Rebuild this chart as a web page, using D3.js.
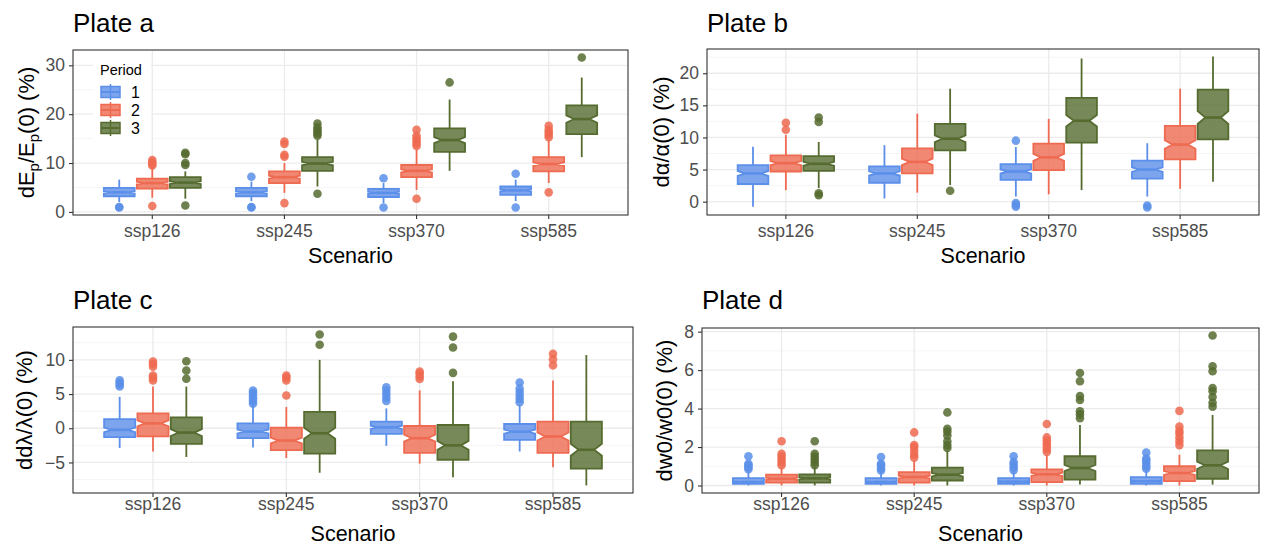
<!DOCTYPE html>
<html><head><meta charset="utf-8">
<script src="https://cdn.jsdelivr.net/npm/d3@7"></script>
<style>body{margin:0;background:#fff} text{font-family:"Liberation Sans",Arial,sans-serif}</style>
</head><body><svg id="chart" width="1261" height="546"></svg>
<script>
// ---------- data ----------
const scenarios = ["ssp126", "ssp245", "ssp370", "ssp585"];
const periods = ["1", "2", "3"];
const sampleSize = 150; // members per box, used for the notch (ggplot: median ± 1.58 IQR / sqrt(n))

// Plate a : dEp/Ep(0) (%)   [scenario][period]
const aLow = [[2.0, 2.9, 2.7], [2.2, 3.9, 5.2], [1.8, 4.5, 8.4], [2.2, 5.9, 11.2]];
const aQ1  = [[3.2, 4.75, 4.9], [3.2, 5.9, 8.4], [3.05, 7.1, 12.3], [3.5, 8.3, 15.9]];
const aMed = [[4.0, 5.9, 6.0], [4.0, 7.1, 9.9], [3.9, 8.4, 14.7], [4.4, 9.8, 19.0]];
const aQ3  = [[4.9, 6.8, 7.1], [4.9, 8.3, 11.2], [4.7, 9.6, 17.1], [5.2, 11.2, 21.8]];
const aHigh = [[6.6, 9.0, 8.3], [6.2, 10.0, 14.8], [5.9, 12.8, 23.0], [6.6, 14.7, 27.5]];
const aOut = [
  [[1.0, 0.9], [1.2, 9.5, 9.8, 10.2, 10.6], [1.3, 9.6, 10.0, 11.8, 12.1]],
  [[1.0, 0.9, 7.2], [1.8, 11.3, 11.7, 13.9, 14.4], [3.7, 15.6, 16.0, 16.4, 16.8, 17.3, 18.1]],
  [[0.9, 6.9], [2.7, 13.5, 14.0, 14.5, 15.0, 15.6, 16.8], [26.5]],
  [[0.9, 7.8], [4.0, 15.3, 15.8, 16.3, 16.8, 17.6], [31.6]]
];
const aTicks = [0, 10, 20, 30];

// Plate b : dα/α(0) (%)
const bLow = [[-0.8, 1.8, 2.1], [0.5, 1.4, 2.6], [0.8, 1.15, 1.8], [0.8, 2.0, 3.1]];
const bQ1  = [[2.75, 4.7, 4.8], [2.95, 4.4, 8.0], [3.4, 4.9, 9.2], [3.6, 6.6, 9.7]];
const bMed = [[4.4, 6.0, 5.9], [4.4, 6.2, 9.8], [4.7, 6.9, 12.6], [5.0, 8.9, 13.1]];
const bQ3  = [[5.7, 7.2, 7.1], [5.5, 8.3, 12.1], [5.85, 9.05, 16.15], [6.4, 11.8, 17.45]];
const bHigh = [[8.55, 10.4, 9.3], [8.8, 13.7, 17.6], [8.5, 12.9, 22.3], [9.1, 17.6, 22.6]];
const bOut = [
  [[], [11.2, 12.3], [1.0, 1.3, 12.4, 13.1]],
  [[], [], [1.7]],
  [[9.5, -0.2, -0.5, -0.8], [], []],
  [[-0.6, -0.9], [], []]
];
const bTicks = [0, 5, 10, 15, 20];

// Plate c : ddλ/λ(0) (%)
const cLow = [[-2.9, -3.4, -4.2], [-2.8, -4.35, -6.5], [-2.57, -5.17, -7.15], [-3.4, -5.7, -8.36]];
const cQ1  = [[-1.3, -1.2, -2.27], [-1.45, -3.2, -3.72], [-0.83, -3.6, -4.6], [-1.7, -3.6, -5.9]];
const cMed = [[-0.24, 0.72, -0.63], [-0.48, -1.8, -0.73], [0.14, -1.45, -2.5], [-0.49, -1.2, -3.14]];
const cQ3  = [[1.35, 2.17, 1.6], [0.72, 0.1, 2.4], [0.96, 0.33, 0.48], [0.62, 0.96, 0.96]];
const cHigh = [[4.6, 6.1, 6.1], [3.4, 3.1, 10.0], [2.9, 5.55, 6.86], [3.38, 7.0, 10.7]];
const cOut = [
  [[6.1, 6.4, 6.7, 7.0], [7.0, 7.4, 7.7, 9.0, 9.4, 9.75], [7.25, 8.45, 9.8]],
  [[3.6, 4.0, 4.4, 4.8, 5.2, 5.5], [4.8, 7.0, 7.4, 7.7], [12.2, 13.7]],
  [[4.0, 4.5, 5.0, 5.5, 6.0], [7.2, 7.6, 8.0, 8.3], [8.1, 11.8, 13.4]],
  [[3.8, 4.3, 4.8, 5.3, 5.8, 6.7], [9.2, 10.1, 10.9], []]
];
const cTicks = [-5, 0, 5, 10];

// Plate d : dw0/w0(0) (%)
const dLow = [[0.0, 0.0, 0.0], [0.0, 0.0, 0.0], [0.0, 0.0, 0.05], [0.0, 0.0, 0.05]];
const dQ1  = [[0.08, 0.15, 0.15], [0.08, 0.15, 0.26], [0.08, 0.18, 0.31], [0.08, 0.23, 0.35]];
const dMed = [[0.18, 0.35, 0.37], [0.18, 0.44, 0.56], [0.2, 0.58, 0.91], [0.22, 0.65, 1.05]];
const dQ3  = [[0.38, 0.57, 0.58], [0.38, 0.7, 0.93], [0.38, 0.84, 1.52], [0.44, 1.0, 1.83]];
const dHigh = [[0.78, 0.95, 0.95], [0.7, 1.3, 1.8], [0.75, 1.6, 3.14], [0.8, 1.6, 3.67]];
const dOut = [
  [[0.85, 0.95, 1.05, 1.13, 1.52], [1.05, 1.2, 1.35, 1.5, 1.65, 2.3], [1.05, 1.2, 1.35, 1.5, 1.65, 2.3]],
  [[0.78, 0.9, 1.05, 1.13, 1.48], [1.45, 1.6, 1.8, 2.0, 2.1, 2.76], [1.95, 2.1, 2.3, 2.6, 2.8, 2.95, 3.8]],
  [[0.8, 0.95, 1.1, 1.22, 1.52], [1.75, 1.9, 2.05, 2.2, 2.35, 2.5, 3.2], [3.5, 3.7, 3.86, 4.45, 4.65, 5.42, 5.85]],
  [[0.87, 1.0, 1.15, 1.3, 1.4, 1.71], [2.1, 2.3, 2.5, 2.7, 2.85, 3.06, 3.88], [4.1, 4.3, 4.6, 4.9, 5.07, 5.94, 6.2, 7.8]]
];
const dTicks = [0, 2, 4, 6, 8];

// ---------- styling / layout ----------
const lineColors = ["#5B8FE9", "#EE6A50", "#556B2F"];
const fillOpacity = 0.8;

const svg = d3.select("#chart");

const plates = [
  { title: "Plate a", lo: aLow, q1: aQ1, med: aMed, q3: aQ3, hi: aHigh, out: aOut, ticks: aTicks,
    x0: 73, x1: 628, y0: 50, y1: 215, titleY: 32, tickPad: 6, xTitleY: 263, yTitleX: 34, ytitle: "a" },
  { title: "Plate b", lo: bLow, q1: bQ1, med: bMed, q3: bQ3, hi: bHigh, out: bOut, ticks: bTicks,
    x0: 707, x1: 1259, y0: 49, y1: 215, titleY: 32, tickPad: 6, xTitleY: 263, yTitleX: 669, ytitle: "dα/α(0) (%)" },
  { title: "Plate c", lo: cLow, q1: cQ1, med: cMed, q3: cQ3, hi: cHigh, out: cOut, ticks: cTicks,
    x0: 73, x1: 633, y0: 327, y1: 493, titleY: 309, tickPad: 1, xTitleY: 541, yTitleX: 32, ytitle: "ddλ/λ(0) (%)" },
  { title: "Plate d", lo: dLow, q1: dQ1, med: dMed, q3: dQ3, hi: dHigh, out: dOut, ticks: dTicks,
    x0: 702, x1: 1259, y0: 328, y1: 493, titleY: 309, tickPad: 1, xTitleY: 541, yTitleX: 672, ytitle: "dw0/w0(0) (%)" }
];

plates.forEach(drawPlate);

function drawPlate(p, pi) {
  const g = svg.append("g");
  const x = d3.scaleBand().domain(scenarios).range([p.x0, p.x1]).paddingInner(0).paddingOuter(0.1);
  const xp = d3.scaleBand().domain(periods).range([-0.375 * x.step(), 0.375 * x.step()]);
  const boxW = xp.bandwidth() * (0.7 / 0.75);

  // y domain from data (with 5% expansion, like ggplot)
  let all = [];
  scenarios.forEach((s, i) => periods.forEach((k, j) => {
    all.push(p.lo[i][j], p.hi[i][j], ...p.out[i][j]);
  }));
  const mn = d3.min(all), mx = d3.max(all), pad = (mx - mn) * 0.05;
  const y = d3.scaleLinear().domain([mn - pad, mx + pad]).range([p.y1, p.y0]);

  // grid
  const step = p.ticks[1] - p.ticks[0];
  const minor = [];
  for (let v = p.ticks[0] - step / 2; v <= y.domain()[1]; v += step) {
    if (v >= y.domain()[0]) minor.push(v);
  }
  g.selectAll(".minor").data(minor).join("line")
    .attr("x1", p.x0).attr("x2", p.x1).attr("y1", d => y(d)).attr("y2", d => y(d))
    .attr("stroke", "#F2F2F2").attr("stroke-width", 0.8);
  g.selectAll(".majorY").data(p.ticks).join("line")
    .attr("x1", p.x0).attr("x2", p.x1).attr("y1", d => y(d)).attr("y2", d => y(d))
    .attr("stroke", "#EBEBEB").attr("stroke-width", 1.3);
  g.selectAll(".majorX").data(scenarios).join("line")
    .attr("x1", d => x(d) + x.bandwidth() / 2).attr("x2", d => x(d) + x.bandwidth() / 2)
    .attr("y1", p.y0).attr("y2", p.y1)
    .attr("stroke", "#EBEBEB").attr("stroke-width", 1.3);

  // legend background (plate a only) – drawn later over grid
  // boxes
  scenarios.forEach((s, i) => periods.forEach((k, j) => {
    const cx = x(s) + x.bandwidth() / 2 + xp(k) + xp.bandwidth() / 2;
    const col = lineColors[j];
    const lo = p.lo[i][j], q1 = p.q1[i][j], md = p.med[i][j], q3 = p.q3[i][j], hi = p.hi[i][j];
    const notch = 1.58 * (q3 - q1) / Math.sqrt(sampleSize);
    const nlo = md - notch, nhi = md + notch;
    const gb = g.append("g");
    // outliers
    gb.selectAll("circle").data(p.out[i][j]).join("circle")
      .attr("cx", cx).attr("cy", d => y(d)).attr("r", 4.3)
      .attr("fill", col).attr("fill-opacity", 0.85);
    // whiskers
    gb.append("line").attr("x1", cx).attr("x2", cx).attr("y1", y(hi)).attr("y2", y(q3))
      .attr("stroke", col).attr("stroke-width", 1.8);
    gb.append("line").attr("x1", cx).attr("x2", cx).attr("y1", y(q1)).attr("y2", y(lo))
      .attr("stroke", col).attr("stroke-width", 1.8);
    // notched box
    const xmin = cx - boxW / 2, xmax = cx + boxW / 2, ind = 0.25 * boxW;
    const pts = [
      [xmin, y(q3)], [xmin, y(nhi)], [xmin + ind, y(md)], [xmin, y(nlo)], [xmin, y(q1)],
      [xmax, y(q1)], [xmax, y(nlo)], [xmax - ind, y(md)], [xmax, y(nhi)], [xmax, y(q3)]
    ];
    gb.append("path").attr("d", d3.line()(pts) + "Z")
      .attr("fill", col).attr("fill-opacity", fillOpacity)
      .attr("stroke", col).attr("stroke-width", 1.8).attr("stroke-linejoin", "miter");
    gb.append("line").attr("x1", xmin + ind).attr("x2", xmax - ind).attr("y1", y(md)).attr("y2", y(md))
      .attr("stroke", col).attr("stroke-width", 2.6);
  }));

  // panel border
  g.append("rect").attr("x", p.x0).attr("y", p.y0).attr("width", p.x1 - p.x0).attr("height", p.y1 - p.y0)
    .attr("fill", "none").attr("stroke", "#333333").attr("stroke-width", 1.1);

  // axes
  const ax = g.append("g").attr("transform", `translate(0,${p.y1})`)
    .call(d3.axisBottom(x).tickSize(4).tickPadding(p.tickPad));
  const ay = g.append("g").attr("transform", `translate(${p.x0},0)`)
    .call(d3.axisLeft(y).tickValues(p.ticks).tickSize(4).tickPadding(4).tickFormat(d3.format("d")));
  [ax, ay].forEach(a => {
    a.select(".domain").remove();
    a.selectAll(".tick line").attr("stroke", "#333333").attr("stroke-width", 1.1);
    a.selectAll(".tick text").attr("fill", "#4D4D4D").style("font-size", "17.5px")
      .style("font-family", '"Liberation Sans", Arial, sans-serif');
  });

  // titles
  g.append("text").attr("x", p.x0).attr("y", p.titleY).text(p.title)
    .style("font-size", "26px").attr("fill", "#000");
  g.append("text").attr("x", (p.x0 + p.x1) / 2).attr("y", p.xTitleY).attr("text-anchor", "middle")
    .text("Scenario").style("font-size", "21.5px").attr("fill", "#000");
  const yt = g.append("text").attr("transform", `translate(${p.yTitleX},${(p.y0 + p.y1) / 2}) rotate(-90)`)
    .attr("text-anchor", "middle").style("font-size", "22px").attr("fill", "#000");
  if (p.ytitle === "a") {
    yt.append("tspan").text("dE");
    yt.append("tspan").text("p").attr("dy", 5).style("font-size", "15px");
    yt.append("tspan").text("/E").attr("dy", -5);
    yt.append("tspan").text("p").attr("dy", 5).style("font-size", "15px");
    yt.append("tspan").text("(0) (%)").attr("dy", -5);
  } else {
    yt.text(p.ytitle);
  }

  // legend in plate a
  if (pi === 0) {
    const lg = g.append("g");
    lg.append("rect").attr("x", 93).attr("y", 58).attr("width", 58).attr("height", 82).attr("fill", "#fff");
    lg.append("text").attr("x", 100).attr("y", 75).text("Period").style("font-size", "14.5px");
    periods.forEach((k, j) => {
      const cy = 92 + j * 18;
      const col = lineColors[j];
      lg.append("line").attr("x1", 110.5).attr("x2", 110.5).attr("y1", cy - 8).attr("y2", cy + 8)
        .attr("stroke", col).attr("stroke-width", 1.5);
      lg.append("rect").attr("x", 101).attr("y", cy - 5.5).attr("width", 19).attr("height", 11)
        .attr("fill", col).attr("fill-opacity", fillOpacity).attr("stroke", col).attr("stroke-width", 1.5);
      lg.append("line").attr("x1", 101).attr("x2", 120).attr("y1", cy).attr("y2", cy)
        .attr("stroke", col).attr("stroke-width", 2);
      lg.append("text").attr("x", 131).attr("y", cy + 6).text(k).style("font-size", "16px");
    });
  }
}
</script></body></html>
